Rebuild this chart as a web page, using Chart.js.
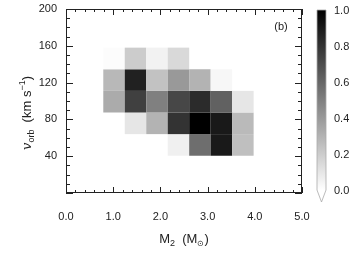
<!DOCTYPE html>
<html>
<head>
<meta charset="utf-8">
<script src="https://cdn.jsdelivr.net/npm/chart.js@4.4.1/dist/chart.umd.min.js"></script>
<style>
  body { margin: 0; background: #fff; }
  #wrap { width: 357px; height: 255px; }
</style>
</head>
<body>
<div id="wrap"><canvas id="heat"></canvas></div>
<script>
// bin edges (M2 in Msun, v_orb in km/s)
const massEdges = [0.79, 1.245, 1.70, 2.155, 2.61, 3.065, 3.52, 3.975];
const velEdges = [40.5, 64, 87.5, 111, 134.5, 158];

// normalised fraction per cell, one array per velocity bin (bottom to top)
const vel40 = [0, 0, 0, 0.06, 0.57, 0.90, 0.25];
const vel64 = [0, 0.10, 0.30, 0.80, 1.00, 0.90, 0.27];
const vel88 = [0.33, 0.75, 0.50, 0.72, 0.83, 0.62, 0.10];
const vel111 = [0.28, 0.87, 0.24, 0.40, 0.30, 0.03, 0];
const vel135 = [0.01, 0.20, 0.05, 0.15, 0, 0, 0];
const velRows = [vel40, vel64, vel88, vel111, vel135];

const xTicks = [0, 1, 2, 3, 4, 5];
const yTicks = [40, 80, 120, 160, 200];
const cbTicks = [0, 0.2, 0.4, 0.6, 0.8, 1.0];

const FONT = "'Liberation Sans', Arial, sans-serif";

function grey(v) {
  const g = Math.round(255 * (1 - v));
  return 'rgb(' + g + ',' + g + ',' + g + ')';
}

// draw text made of pieces (sub/superscripts)
function richText(ctx, parts, x, y) {
  let w = 0;
  parts.forEach(p => { ctx.font = p.font; w += ctx.measureText(p.t).width; });
  let cx = x - w / 2;
  parts.forEach(p => {
    ctx.font = p.font;
    ctx.fillText(p.t, cx, y + (p.dy || 0));
    cx += ctx.measureText(p.t).width;
  });
}

// fixed box sizes, no extra label padding
function fixBox(w, h) {
  return s => {
    if (w) s.width = w;
    if (h) s.height = h;
    s.paddingTop = 0; s.paddingBottom = 0;
    s.paddingLeft = 0; s.paddingRight = 0;
  };
}

const heatPlugin = {
  id: 'heat',
  beforeDatasetsDraw(chart) {
    const ctx = chart.ctx;
    const xs = chart.scales.x, ys = chart.scales.y;
    ctx.save();
    velRows.forEach((row, j) => {
      row.forEach((v, i) => {
        if (v <= 0) return;
        const x0 = xs.getPixelForValue(massEdges[i]);
        const x1 = xs.getPixelForValue(massEdges[i + 1]);
        const y0 = ys.getPixelForValue(velEdges[j]);
        const y1 = ys.getPixelForValue(velEdges[j + 1]);
        ctx.fillStyle = grey(v);
        ctx.fillRect(x0, y1, x1 - x0, y0 - y1);
      });
    });
    ctx.restore();
  },
  afterDraw(chart) {
    const ctx = chart.ctx;
    const a = chart.chartArea;
    const xs = chart.scales.x, ys = chart.scales.y, cb = chart.scales.cb;
    ctx.save();

    // frame
    ctx.strokeStyle = '#222';
    ctx.lineWidth = 1;
    ctx.strokeRect(a.left + 0.5, a.top + 0.5, a.right - a.left - 1, a.bottom - a.top - 1);

    // inward ticks
    ctx.beginPath();
    for (let k = 0; k <= 25; k++) {
      const px = Math.round(xs.getPixelForValue(k * 0.2)) + 0.5;
      const len = k % 5 === 0 ? 6 : 3;
      ctx.moveTo(px, a.bottom); ctx.lineTo(px, a.bottom - len);
      ctx.moveTo(px, a.top); ctx.lineTo(px, a.top + len);
    }
    for (let k = 0; k <= 20; k++) {
      const py = Math.round(ys.getPixelForValue(k * 10)) + 0.5;
      const len = k % 4 === 0 ? 7 : 4;
      ctx.moveTo(a.left, py); ctx.lineTo(a.left + len, py);
      ctx.moveTo(a.right, py); ctx.lineTo(a.right - len, py);
    }
    ctx.stroke();

    // panel label
    ctx.fillStyle = '#222';
    ctx.font = '11px ' + FONT;
    ctx.textAlign = 'center';
    ctx.textBaseline = 'middle';
    ctx.fillText('(b)', 281, 27);

    // colour bar
    const bx = 317, bw = 9;
    const top = cb.getPixelForValue(1.0) - 1;
    const bot = cb.getPixelForValue(0.0) - 1;
    const grad = ctx.createLinearGradient(0, top, 0, bot);
    grad.addColorStop(0, grey(1));
    grad.addColorStop(1, grey(0));
    ctx.fillStyle = grad;
    ctx.beginPath();
    ctx.moveTo(bx, top);
    ctx.lineTo(bx + bw, top);
    ctx.lineTo(bx + bw, bot);
    ctx.lineTo(bx + bw / 2, bot + 12);
    ctx.lineTo(bx, bot);
    ctx.closePath();
    ctx.fill();
    ctx.strokeStyle = '#aaa';
    ctx.lineWidth = 0.8;
    ctx.stroke();

    // axis titles
    ctx.fillStyle = '#222';
    ctx.textAlign = 'left';
    ctx.textBaseline = 'alphabetic';
    richText(ctx, [
      { t: 'M', font: '13px ' + FONT },
      { t: '2', font: '9px ' + FONT, dy: 3 },
      { t: '  (M', font: '13px ' + FONT },
      { t: '\u2299', font: '8px ' + FONT, dy: 3 },
      { t: ')', font: '13px ' + FONT }
    ], (a.left + a.right) / 2, 243);

    ctx.translate(31, 113);
    ctx.rotate(-Math.PI / 2);
    richText(ctx, [
      { t: 'v', font: 'italic 13px "DejaVu Serif", serif' },
      { t: 'orb', font: '9px ' + FONT, dy: 3 },
      { t: '  (km s', font: '13px ' + FONT },
      { t: '\u22121', font: '9px ' + FONT, dy: -6 },
      { t: ')', font: '13px ' + FONT }
    ], 0, 0);
    ctx.restore();
  }
};

new Chart(document.getElementById('heat'), {
  type: 'scatter',
  data: { datasets: [{ data: [], pointRadius: 0 }] },
  options: {
    responsive: true,
    maintainAspectRatio: false,
    animation: false,
    layout: { padding: { top: 9, left: 0, right: 0, bottom: 0 } },
    plugins: { legend: { display: false }, tooltip: { enabled: false } },
    scales: {
      x: {
        type: 'linear', min: 0, max: 5,
        grid: { display: false, drawTicks: false },
        border: { display: false },
        afterBuildTicks: s => { s.ticks = xTicks.map(v => ({ value: v })); },
        afterFit: fixBox(0, 62),
        ticks: {
          padding: 17, color: '#222', font: { family: FONT, size: 11 },
          maxRotation: 0, callback: v => v.toFixed(1)
        }
      },
      y: {
        type: 'linear', min: 0, max: 200,
        grid: { display: false, drawTicks: false },
        border: { display: false },
        afterBuildTicks: s => { s.ticks = yTicks.map(v => ({ value: v })); },
        afterFit: fixBox(66, 0),
        ticks: { padding: 9, color: '#222', font: { family: FONT, size: 11 } }
      },
      cb: {
        type: 'linear', position: 'right', min: -2 / 180, max: 1 + 2 / 180,
        grid: { display: false, drawTicks: false },
        border: { display: false },
        afterBuildTicks: s => { s.ticks = cbTicks.map(v => ({ value: v })); },
        afterFit: fixBox(55, 0),
        ticks: {
          padding: 32, color: '#222', font: { family: FONT, size: 11 },
          callback: v => v.toFixed(1)
        }
      }
    }
  },
  plugins: [heatPlugin]
});
</script>
</body>
</html>
